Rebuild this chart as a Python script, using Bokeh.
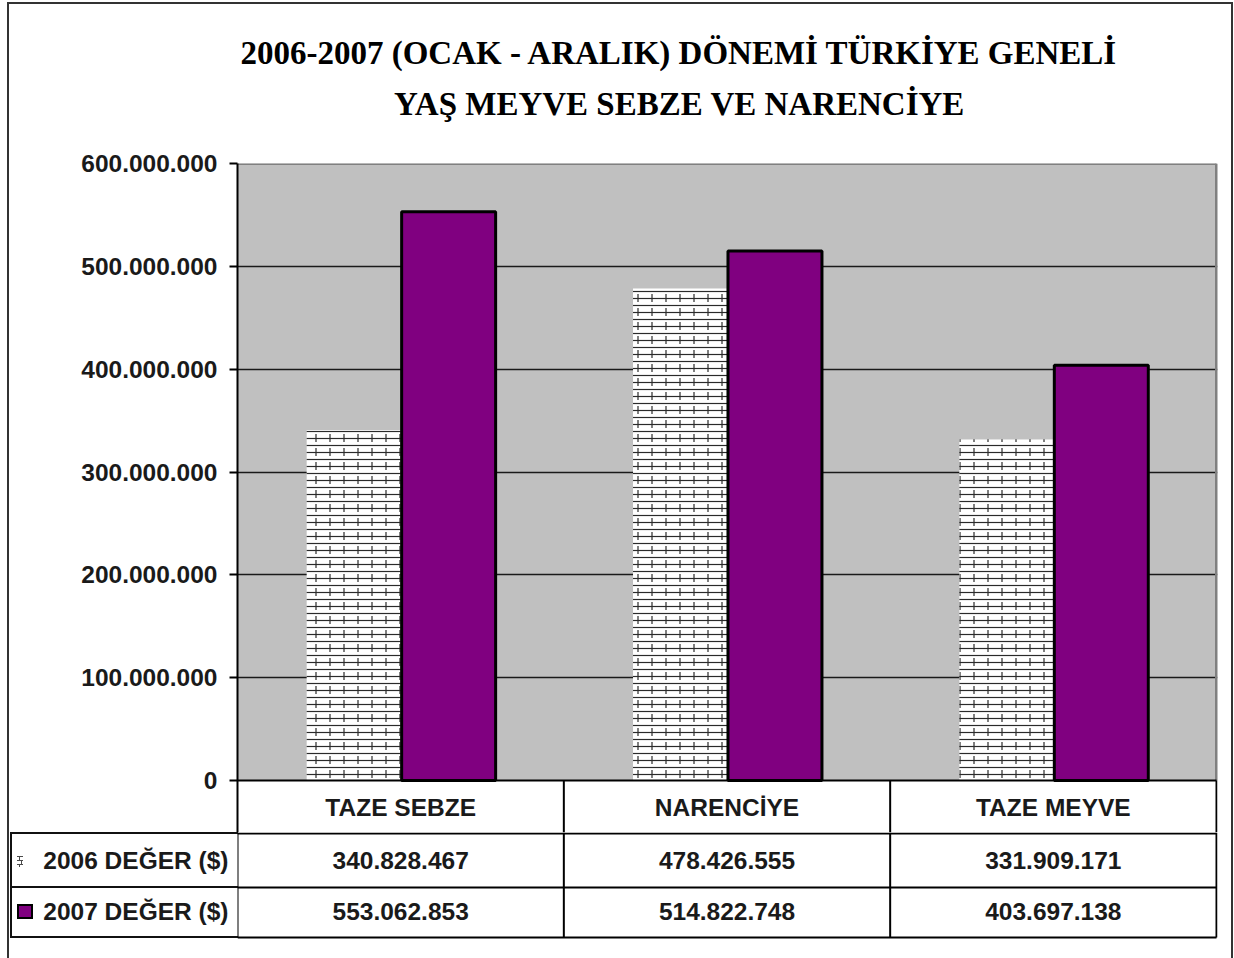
from bokeh.plotting import figure
from bokeh.models import Range1d, FixedTicker, ColumnDataSource
from bokeh.layouts import column
from bokeh.core.properties import value
from bokeh.embed import file_html
from bokeh.resources import INLINE

# ---------------- data ----------------
categories = ["TAZE SEBZE", "NARENCİYE", "TAZE MEYVE"]
series_names = ["2006 DEĞER ($)", "2007 DEĞER ($)"]
values_2006 = [340828467, 478426555, 331909171]
values_2007 = [553062853, 514822748, 403697138]
y_ticks = [0, 100000000, 200000000, 300000000, 400000000, 500000000, 600000000]
y_tick_labels = ["0", "100.000.000", "200.000.000", "300.000.000",
                 "400.000.000", "500.000.000", "600.000.000"]
title_lines = ["2006-2007 (OCAK - ARALIK) DÖNEMİ TÜRKİYE GENELİ",
               "YAŞ MEYVE SEBZE VE NARENCİYE"]


def fmt(v):
    return f"{v:,}".replace(",", ".")


# ---------------- layout (pixels) ----------------
W, H = 1234, 958
FL, FR, FT, FB = 237, 1216, 163, 780      # plot area
RIGHT_EDGE = 1217                          # right edge of every figure frame
TITLE_H = 140                              # title strip height
SPLIT = 832                                # chart / table split
NC = len(categories)
YMAX = y_ticks[-1]
SANS = "Liberation Sans"
SERIF = "Liberation Serif"
FS = "24.5px"
TXT = "#1a1a1a"


def xd(px):
    return (px - FL) / (FR - FL) * NC


def yd(py):
    return (FB - py) / (FB - FT) * YMAX


XR = (0, xd(RIGHT_EDGE))


def bare(fig):
    fig.xaxis.visible = False
    fig.yaxis.visible = False
    fig.grid.visible = False


common = dict(width=W, output_backend="svg", toolbar_location=None,
              min_border_left=FL, min_border_right=W - RIGHT_EDGE,
              border_fill_color=None, background_fill_color=None, outline_line_color=None)

# ---------------- title strip ----------------
tf = figure(height=TITLE_H, x_range=Range1d(*XR), y_range=Range1d(TITLE_H, 0),
            min_border_top=0, min_border_bottom=0, **common)
bare(tf)
tf.text(x=[xd(679)] * 2, y=[52, 103], text=title_lines, text_align="center",
        text_baseline="alphabetic", text_font=value(SERIF), text_font_style="bold",
        text_font_size="33px", text_color="black")

# ---------------- chart ----------------
p = figure(height=SPLIT - TITLE_H, x_range=Range1d(*XR), y_range=Range1d(yd(SPLIT), YMAX),
           min_border_top=FT - TITLE_H, min_border_bottom=0, **common)
p.xaxis.visible = False
p.xgrid.visible = False

ax = p.yaxis[0]
ax.ticker = FixedTicker(ticks=y_ticks)
ax.major_label_overrides = {t: l for t, l in zip(y_ticks, y_tick_labels)}
ax.axis_line_color = "black"
ax.axis_line_width = 2
ax.major_tick_out = 8
ax.major_tick_in = 0
ax.major_tick_line_width = 2
ax.minor_tick_out = 0
ax.minor_tick_in = 0
ax.major_label_standoff = 12
ax.major_label_text_font = SANS
ax.major_label_text_font_style = "bold"
ax.major_label_text_font_size = FS
ax.major_label_text_color = TXT

p.ygrid.ticker = FixedTicker(ticks=y_ticks[1:-1])
p.ygrid.grid_line_color = "#1a1a1a"
p.ygrid.grid_line_width = 1.6

# plot area background and its grey top / right edges
p.quad(left=[0], right=[NC], bottom=[0], top=[YMAX], fill_color="#C0C0C0",
       line_color=None, level="image")
p.segment(x0=[0, NC], y0=[YMAX, YMAX], x1=[NC, NC], y1=[YMAX, 0],
          line_color="#808080", line_width=3)

# bars
BW = 0.288
centers = [i + 0.5 for i in range(NC)]
src06 = ColumnDataSource(dict(x=[c - BW / 2 for c in centers], top=values_2006))
src07 = ColumnDataSource(dict(x=[c + BW / 2 + 0.003 for c in centers], top=values_2007))
p.vbar(x="x", top="top", width=BW, source=src06, fill_color="white", line_color=None,
       hatch_pattern="horizontal_line", hatch_scale=7, hatch_color="#2a2a2a", hatch_weight=1.2)
p.vbar(x="x", top="top", width=BW, source=src06, fill_alpha=0, line_color=None,
       hatch_pattern="vertical_dash", hatch_scale=14, hatch_color="#2a2a2a", hatch_weight=1.2)
p.vbar(x="x", top="top", width=BW, source=src07, fill_color="#800080",
       line_color="black", line_width=3)

# zero line and header row of the data table
ybot = yd(SPLIT)
p.segment(x0=[0], y0=[0], x1=[NC], y1=[0], line_color="black", line_width=2)
p.segment(x0=list(range(1, NC + 1)), y0=[0] * NC, x1=list(range(1, NC + 1)), y1=[ybot] * NC,
          line_color="black", line_width=2)
p.text(x=centers, y=[yd(807)] * NC, text=categories, text_align="center",
       text_baseline="middle", text_font=value(SANS), text_font_style="bold",
       text_font_size=FS, text_color=TXT)

# ---------------- table body ----------------
TH = H - SPLIT
t = figure(height=TH, x_range=Range1d(*XR), y_range=Range1d(TH, 0),
           min_border_top=0, min_border_bottom=0, **common)
t.xaxis.visible = False
t.grid.visible = False
row_lines = [833 - SPLIT, 887 - SPLIT, 937 - SPLIT]
row_mid = [860 - SPLIT, 911 - SPLIT]
t.segment(x0=[0] * 3, y0=row_lines, x1=[NC] * 3, y1=row_lines,
          line_color="black", line_width=2)
vx = list(range(NC + 1))
t.segment(x0=vx, y0=[0] * len(vx), x1=vx, y1=[row_lines[-1]] * len(vx),
          line_color="black", line_width=2)

for yy, vals in zip(row_mid, [values_2006, values_2007]):
    t.text(x=centers, y=[yy] * NC, text=[fmt(v) for v in vals],
           text_align="center", text_baseline="middle", text_font=value(SANS),
           text_font_style="bold", text_font_size=FS, text_color=TXT)

# series names as the table's row headers (left axis)
lax = t.yaxis[0]
lax.ticker = FixedTicker(ticks=row_mid)
lax.major_label_overrides = {m: n for m, n in zip(row_mid, series_names)}
lax.axis_line_color = None
lax.major_tick_out = 9
lax.major_tick_in = 0
lax.major_tick_line_color = None
lax.minor_tick_line_color = None
lax.major_label_standoff = 0
lax.major_label_text_font = SANS
lax.major_label_text_font_style = "bold"
lax.major_label_text_font_size = FS
lax.major_label_text_color = TXT

# ---------------- chart frame, legend cell borders and legend keys (page background) ----
def box(color, x, y, w, h):
    return f"linear-gradient({color},{color}) {x}px {y}px / {w}px {h}px no-repeat"


layers = [
    box("#800080", 19, 906, 12, 11),
    box("#000000", 17, 904, 16, 15),
    box("#4a4a4a", 19, 856, 1, 4),
    box("#4a4a4a", 21, 860, 1, 4),
    box("#4a4a4a", 19, 864, 1, 3),
    "repeating-linear-gradient(#4a4a4a 0 1px, transparent 1px 4px) 17px 856px / 6px 12px no-repeat",
    box("#111", 10, 832, 228, 2),
    box("#111", 10, 886, 228, 2),
    box("#111", 10, 936, 228, 2),
    box("#111", 10, 832, 2, 106),
    box("#333", 7, 2, 2, 1000),
    box("#333", 1231, 2, 2, 1000),
    box("#333", 7, 2, 1226, 2),
    "white",
]
layout = column(tf, p, t, spacing=0, styles={"background": ", ".join(layers)})

open("out.html", "w").write(file_html(layout, INLINE))
